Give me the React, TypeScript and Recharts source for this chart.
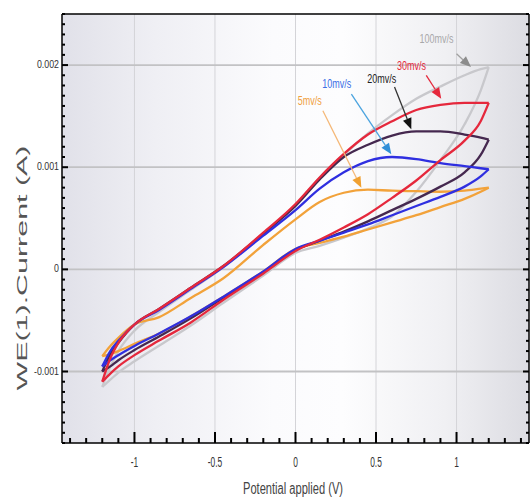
import React from "react";
import {
  LineChart, Line, XAxis, YAxis, CartesianGrid, ReferenceLine, ReferenceDot,
} from "recharts";

// potential grid (V) shared by every sweep
const potential = [-1.2, -1.15, -1.1, -1.0, -0.85, -0.65, -0.45, -0.2, 0, 0.15, 0.3, 0.45, 0.6, 0.75, 0.9, 1.05, 1.15, 1.2];

// current in mA, forward (upper) and reverse (lower) branches
const fwd100 = [-1.15, -0.95, -0.8, -0.6, -0.42, -0.2, 0.02, 0.35, 0.63, 0.9, 1.12, 1.33, 1.51, 1.67, 1.79, 1.9, 1.96, 1.98];
const rev100 = [-1.15, -1.08, -1.01, -0.9, -0.75, -0.55, -0.33, -0.06, 0.16, 0.23, 0.31, 0.4, 0.52, 0.76, 1.07, 1.42, 1.75, 1.98];
const fwd30 = [-1.1, -0.87, -0.72, -0.54, -0.39, -0.18, 0.03, 0.36, 0.64, 0.9, 1.13, 1.32, 1.45, 1.56, 1.61, 1.63, 1.63, 1.63];
const rev30 = [-1.1, -1.02, -0.95, -0.84, -0.7, -0.52, -0.3, -0.04, 0.18, 0.29, 0.41, 0.54, 0.7, 0.87, 1.07, 1.26, 1.45, 1.63];
const fwd20 = [-1.0, -0.83, -0.72, -0.54, -0.39, -0.18, 0.03, 0.35, 0.62, 0.88, 1.1, 1.22, 1.31, 1.35, 1.35, 1.32, 1.29, 1.27];
const rev20 = [-1.0, -0.95, -0.89, -0.79, -0.66, -0.48, -0.28, -0.03, 0.19, 0.28, 0.37, 0.47, 0.58, 0.69, 0.81, 0.95, 1.12, 1.27];
const fwd10 = [-0.95, -0.8, -0.7, -0.54, -0.4, -0.19, 0.02, 0.33, 0.58, 0.79, 0.95, 1.06, 1.1, 1.08, 1.04, 1.01, 0.99, 0.98];
const rev10 = [-0.95, -0.89, -0.84, -0.75, -0.63, -0.46, -0.27, -0.02, 0.2, 0.28, 0.36, 0.44, 0.53, 0.62, 0.71, 0.81, 0.91, 0.98];
const fwd5 = [-0.85, -0.75, -0.67, -0.54, -0.47, -0.28, -0.09, 0.24, 0.49, 0.66, 0.75, 0.78, 0.77, 0.765, 0.76, 0.77, 0.79, 0.8];
const rev5 = [-0.85, -0.83, -0.8, -0.73, -0.63, -0.46, -0.27, -0.02, 0.2, 0.26, 0.32, 0.39, 0.46, 0.53, 0.61, 0.69, 0.76, 0.8];

const sweeps = [
  { name: "100", color: "#c8c8cc", fwd: fwd100, rev: rev100 },
  { name: "5", color: "#f2a23a", fwd: fwd5, rev: rev5 },
  { name: "20", color: "#45284f", fwd: fwd20, rev: rev20 },
  { name: "10", color: "#2f2fe0", fwd: fwd10, rev: rev10 },
  { name: "30", color: "#e5283c", fwd: fwd30, rev: rev30 },
];

const xMajor = [-1, -0.5, 0, 0.5, 1];
const yMajor = [-1, 0, 1, 2];
const xMinor = Array.from({ length: 29 }, (_, i) => (i - 14) / 10);
const yMinor = Array.from({ length: 43 }, (_, i) => (i - 17) / 10);

// annotation labels and arrows (data coords)
const notes = [
  { text: "100mv/s", color: "#a8a8aa", line: "#a0a0a0", head: "#8c8c8c", at: [0.876, 2.26], from: [1.0, 2.11], to: [1.09, 1.98] },
  { text: "30mv/s", color: "#e5283c", line: "#e5283c", head: "#e5283c", at: [0.72, 1.99], from: [0.812, 1.9], to: [0.905, 1.67] },
  { text: "20mv/s", color: "#222", line: "#333", head: "#111", at: [0.535, 1.865], from: [0.615, 1.785], to: [0.719, 1.372] },
  { text: "10mv/s", color: "#3b6fe6", line: "#4aa3df", head: "#2f8fd8", at: [0.256, 1.815], from: [0.347, 1.716], to: [0.595, 1.126] },
  { text: "5mv/s", color: "#f0a040", line: "#f5b877", head: "#f0a030", at: [0.089, 1.65], from: [0.17, 1.552], to: [0.409, 0.798] },
];

const isMajorX = (v: number) => Math.abs(v * 2 - Math.round(v * 2)) < 1e-9;
const isMajorY = (v: number) => Math.abs(v - Math.round(v)) < 1e-9;

const tickColor = "#000";

const XTickBottom = (props: any) => {
  const { x, y, payload } = props;
  const v = payload.value as number;
  const major = isMajorX(v);
  return (
    <g>
      <line x1={x} x2={x} y1={y} y2={y - (major ? 11 : 5)} stroke={tickColor} strokeWidth={2} />
      {major && (
        <text transform={`translate(${x},${y + 24}) scale(0.6,1)`} textAnchor="middle" fontSize={14} fill="#333"
          fontFamily="Liberation Sans, Arial, sans-serif">
          {String(Math.round(v * 10) / 10)}
        </text>
      )}
    </g>
  );
};

const XTickTop = (props: any) => {
  const { x, y, payload } = props;
  const major = isMajorX(payload.value);
  return <line x1={x} x2={x} y1={y} y2={y + (major ? 11 : 4)} stroke={tickColor} strokeWidth={2} />;
};

const YTickLeft = (props: any) => {
  const { x, y, payload } = props;
  const v = payload.value as number;
  const major = isMajorY(v);
  return (
    <g>
      <line x1={x} x2={x + (major ? 6 : 3)} y1={y} y2={y} stroke={tickColor} strokeWidth={2} />
      {major && (
        <text transform={`translate(${x - 3},${y + 3}) scale(0.8,1)`} textAnchor="end" fontSize={11} fill="#333"
          fontFamily="Liberation Sans, Arial, sans-serif">
          {String(Math.round(v) / 1000)}
        </text>
      )}
    </g>
  );
};

const YTickRight = (props: any) => {
  const { x, y, payload } = props;
  const major = isMajorY(payload.value);
  return <line x1={x} x2={x - (major ? 6 : 3)} y1={y} y2={y} stroke={tickColor} strokeWidth={2} />;
};

const YTitle = () => (
  <text transform="translate(27,268) rotate(-90)" textAnchor="middle" fontSize={15} fill="#555"
    textLength={245} lengthAdjust="spacingAndGlyphs" fontFamily="Liberation Sans, Arial, sans-serif">
    WE(1).Current (A)
  </text>
);

const XTitle = () => (
  <text x={293} y={494} textAnchor="middle" fontSize={16} fill="#444"
    textLength={100} lengthAdjust="spacingAndGlyphs" fontFamily="Liberation Sans, Arial, sans-serif">
    Potential applied (V)
  </text>
);

const Arrow = (color: string, head: string) => (p: any) => {
  const { x1, y1, x2, y2 } = p;
  const dx = x2 - x1, dy = y2 - y1;
  const d = Math.hypot(dx, dy) || 1;
  const ux = dx / d, uy = dy / d;
  const hl = 11, hw = 4.5;
  const bx = x2 - ux * hl, by = y2 - uy * hl;
  return (
    <g>
      <line x1={x1} y1={y1} x2={bx} y2={by} stroke={color} strokeWidth={1.3} />
      <polygon
        points={`${x2},${y2} ${bx - uy * hw},${by + ux * hw} ${bx + uy * hw},${by - ux * hw}`}
        fill={head}
      />
    </g>
  );
};

const NoteText = (text: string, color: string) => (p: any) => (
  <text transform={`translate(${p.cx},${p.cy + 4}) scale(0.72,1)`} textAnchor="middle" fontSize={12.5}
    fill={color} fontFamily="Liberation Sans, Arial, sans-serif">
    {text}
  </text>
);

export default function App() {
  return (
    <div style={{ position: "absolute", left: 0, top: 0, width: 531, height: 499, background: "#fff" }}>
      <div
        style={{
          position: "absolute", left: 62, top: 14, width: 467, height: 429,
          background: "linear-gradient(to right, #e1e1e9 0%, #efeff4 20%, #fbfbfd 45%, #fdfdfe 60%, #f0f0f3 82%, #dcdce2 100%)",
        }}
      />
      <div style={{ position: "absolute", left: 0, top: 0 }}>
        <LineChart width={531} height={499} margin={{ top: 13, right: 0, left: 12, bottom: 26 }}>
          <CartesianGrid horizontal={false} verticalValues={xMajor} stroke="#d4d4d8" strokeWidth={1} />
          <CartesianGrid vertical={false} horizontalValues={yMajor} stroke="#c2c2c4" strokeWidth={1.8} />
          <XAxis dataKey="x" type="number" domain={[-1.45, 1.45]} allowDataOverflow ticks={xMinor} interval={0}
            tickSize={0} tickMargin={0} tickLine={false} height={30} axisLine={{ stroke: tickColor, strokeWidth: 1.5 }}
            tick={XTickBottom} label={<XTitle />} />
          <XAxis xAxisId="top" orientation="top" type="number" domain={[-1.45, 1.45]} allowDataOverflow ticks={xMinor}
            interval={0} tickSize={0} tickMargin={0} tickLine={false} height={1}
            axisLine={{ stroke: tickColor, strokeWidth: 1.5 }} tick={XTickTop} />
          <YAxis type="number" domain={[-1.7, 2.5]} allowDataOverflow ticks={yMinor} interval={0}
            tickSize={0} tickMargin={0} tickLine={false} width={50} axisLine={{ stroke: tickColor, strokeWidth: 1.5 }}
            tick={YTickLeft} label={<YTitle />} />
          <YAxis yAxisId="right" orientation="right" type="number" domain={[-1.7, 2.5]} allowDataOverflow ticks={yMinor}
            interval={0} tickSize={0} tickMargin={0} tickLine={false} width={2}
            axisLine={{ stroke: tickColor, strokeWidth: 1.5 }} tick={YTickRight} />
          {sweeps.flatMap((s) => [
            <Line key={s.name + "f"} data={potential.map((x, i) => ({ x, y: s.fwd[i] }))} dataKey="y" type="monotone"
              stroke={s.color} strokeWidth={2.3} dot={false} isAnimationActive={false} />,
            <Line key={s.name + "r"} data={potential.map((x, i) => ({ x, y: s.rev[i] }))} dataKey="y" type="monotone"
              stroke={s.color} strokeWidth={2.3} dot={false} isAnimationActive={false} />,
          ])}
          {notes.map((n) => (
            <ReferenceLine key={n.text + "a"} segment={[{ x: n.from[0], y: n.from[1] }, { x: n.to[0], y: n.to[1] }]}
              shape={Arrow(n.line, n.head)} />
          ))}
          {notes.map((n) => (
            <ReferenceDot key={n.text} x={n.at[0]} y={n.at[1]} r={0} shape={NoteText(n.text, n.color)} />
          ))}
        </LineChart>
      </div>
    </div>
  );
}
